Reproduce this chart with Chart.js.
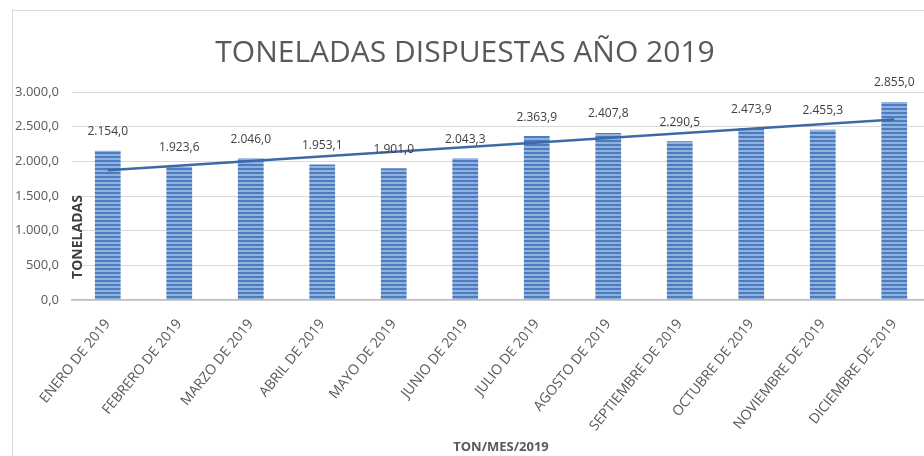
<!DOCTYPE html>
<html>
<head>
<meta charset="utf-8">
<script src="https://cdn.jsdelivr.net/npm/chart.js@4"></script>
<style>
  html, body { margin: 0; padding: 0; background: #fff; overflow: hidden; }
  #wrap { position: relative; width: 934px; height: 456px; }
</style>
</head>
<body>
<div id="wrap"><canvas id="c"></canvas></div>
<script>
const categories = ["ENERO DE 2019", "FEBRERO DE 2019", "MARZO DE 2019", "ABRIL DE 2019", "MAYO DE 2019", "JUNIO DE 2019", "JULIO DE 2019", "AGOSTO DE 2019", "SEPTIEMBRE DE 2019", "OCTUBRE DE 2019", "NOVIEMBRE DE 2019", "DICIEMBRE DE 2019"];
const toneladas = [2154.0, 1923.6, 2046.0, 1953.1, 1901.0, 2043.3, 2363.9, 2407.8, 2290.5, 2473.9, 2455.3, 2855.0];
// linear trendline end points (Excel trendline)
const trendLine = [1873, null, null, null, null, null, null, null, null, null, null, 2605];
const yTicks = [0, 500, 1000, 1500, 2000, 2500, 3000];
const titleText = "TONELADAS DISPUESTAS AÑO 2019";
const yTitle = "TONELADAS";
const xTitle = "TON/MES/2019";

function fmt(v) {
  const s = v.toFixed(1).split('.');
  return s[0].replace(/\B(?=(\d{3})+(?!\d))/g, '.') + ',' + s[1];
}

function stripePattern() {
  const p = document.createElement('canvas');
  p.width = 4; p.height = 4;
  const g = p.getContext('2d');
  g.fillStyle = '#8fb2de'; g.fillRect(0, 0, 4, 4);
  g.fillStyle = '#4c7bbf'; g.fillRect(0, 0, 4, 2);
  return g.createPattern(p, 'repeat');
}

const frame = {
  id: 'frame',
  beforeDraw(chart) {
    const ctx = chart.ctx;
    ctx.save();
    ctx.strokeStyle = '#d9d9d9';
    ctx.lineWidth = 1;
    ctx.strokeRect(12.5, 10.5, 940, 470);
    ctx.restore();
  }
};

const labelsPlugin = {
  id: 'valueLabels',
  afterDatasetsDraw(chart) {
    const ctx = chart.ctx;
    const meta = chart.getDatasetMeta(1);
    ctx.save();
    ctx.font = '12px "Open Sans"';
    ctx.fillStyle = '#404040';
    ctx.textAlign = 'center';
    ctx.textBaseline = 'middle';
    meta.data.forEach((bar, i) => {
      ctx.fillText(fmt(toneladas[i]), bar.x, bar.y - 19);
    });
    // y axis title drawn inside plot like the reference
    ctx.translate(78, 237);
    ctx.rotate(-Math.PI / 2);
    ctx.font = 'bold 14px "Open Sans"';
    ctx.fillStyle = '#404040';
    ctx.fillText(yTitle, 0, 0);
    ctx.restore();
  }
};

new Chart(document.getElementById('c'), {
  data: {
    labels: categories,
    datasets: [
      {
        type: 'line',
        data: trendLine,
        spanGaps: true,
        borderColor: '#3d6aa6',
        borderWidth: 2.5,
        pointRadius: 0,
        fill: false,
        order: 0
      },
      {
        type: 'bar',
        data: toneladas,
        backgroundColor: stripePattern(),
        borderWidth: 0,
        categoryPercentage: 1,
        barPercentage: 0.36,
        order: 1
      }
    ]
  },
  options: {
    responsive: true,
    maintainAspectRatio: false,
    animation: false,
    devicePixelRatio: 1,
    layout: { padding: { left: 0, right: 4, top: 0, bottom: 0 } },
    plugins: {
      legend: { display: false },
      tooltip: { enabled: false },
      title: {
        display: true,
        text: titleText,
        color: '#595959',
        font: { family: 'Open Sans', size: 30, weight: 'normal', lineHeight: 1.2 },
        padding: { top: 35, bottom: 21 }
      }
    },
    scales: {
      x: {
        grid: { display: false, drawTicks: false },
        border: { color: '#bfbfbf', width: 1.5 },
        ticks: {
          color: '#595959',
          font: { family: 'Open Sans', size: 14 },
          minRotation: 51, maxRotation: 51,
          autoSkip: false,
          padding: 16
        },
        title: {
          display: true,
          text: xTitle,
          color: '#595959',
          font: { family: 'Open Sans', size: 13, weight: 'bold' },
          padding: { top: 0, bottom: 1 }
        },
        afterFit(scale) { scale.height = 156; }
      },
      y: {
        min: 0, max: 3000,
        afterBuildTicks(scale) { scale.ticks = yTicks.map(v => ({ value: v })); },
        grid: { color: '#d9d9d9', drawTicks: false },
        border: { display: false },
        ticks: {
          color: '#595959',
          font: { family: 'Open Sans', size: 13 },
          padding: 13,
          callback: v => fmt(v)
        },
        afterFit(scale) { scale.width = 72; }
      }
    }
  },
  plugins: [frame, labelsPlugin]
});
</script>
</body>
</html>
